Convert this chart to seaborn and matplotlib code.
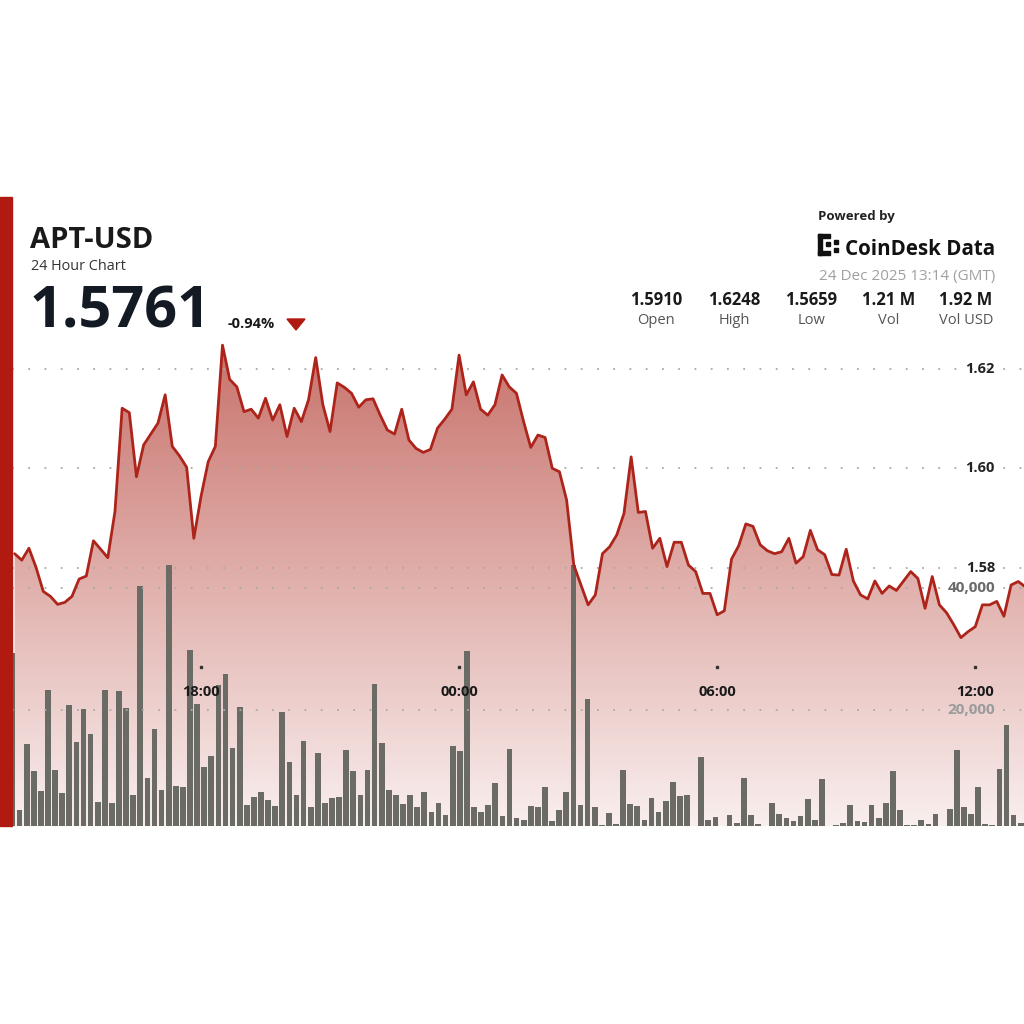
import matplotlib.pyplot as plt
import matplotlib.patches as patches
import matplotlib.transforms as mtransforms
from matplotlib.colors import LinearSegmentedColormap
import seaborn as sns
import numpy as np

# APT-USD price, one point every 10 minutes (first point ~13:40)
price = [
    1.5828, 1.5815, 1.5839, 1.5800, 1.5752, 1.5742, 1.5726, 1.5730, 1.5742, 1.5777,
    1.5783, 1.5854, 1.5837, 1.5820, 1.5913, 1.6121, 1.6112, 1.5983, 1.6047, 1.6069,
    1.6091, 1.6148, 1.6044, 1.6025, 1.6002, 1.5859, 1.5943, 1.6013, 1.6044, 1.6248,
    1.6179, 1.6164, 1.6114, 1.6119, 1.6101, 1.6141, 1.6097, 1.6128, 1.6064, 1.6121,
    1.6094, 1.6138, 1.6223, 1.6128, 1.6074, 1.6172, 1.6163, 1.6151, 1.6123, 1.6138,
    1.6140, 1.6107, 1.6077, 1.6069, 1.6119, 1.6057, 1.6040, 1.6032, 1.6038, 1.6081,
    1.6099, 1.6119, 1.6228, 1.6148, 1.6174, 1.6119, 1.6107, 1.6128, 1.6188, 1.6164,
    1.6151, 1.6094, 1.6042, 1.6067, 1.6062, 1.6000, 1.5993, 1.5936, 1.5805, 1.5765,
    1.5725, 1.5745, 1.5828, 1.5842, 1.5866, 1.5909, 1.6023, 1.5911, 1.5913, 1.5839,
    1.5859, 1.5802, 1.5851, 1.5851, 1.5805, 1.5792, 1.5748, 1.5748, 1.5705, 1.5713,
    1.5817, 1.5844, 1.5888, 1.5883, 1.5846, 1.5834, 1.5828, 1.5832, 1.5859, 1.5809,
    1.5822, 1.5875, 1.5836, 1.5826, 1.5786, 1.5785, 1.5837, 1.5773, 1.5745, 1.5737,
    1.5773, 1.5748, 1.5763, 1.5754, 1.5773, 1.5792, 1.5778, 1.5718, 1.5782, 1.5725,
    1.5709, 1.5685, 1.5659, 1.5671, 1.5681, 1.5725, 1.5725, 1.5732, 1.5702, 1.5765,
    1.5772, 1.5761,
]

# traded volume per 10-minute bar
volume = [
    29400, 3600, 14400, 10000, 6700, 23300, 10100, 6400, 20800, 14700,
    20200, 16100, 4900, 23300, 4700, 23100, 20300, 6000, 40400, 8800,
    16900, 6900, 43800, 7500, 7300, 29900, 21000, 10600, 12400, 24100,
    25900, 13800, 20500, 4400, 5700, 6500, 5200, 4200, 19700, 11500,
    6000, 14900, 4100, 12900, 4700, 5500, 5700, 13400, 10000, 6100,
    10100, 24300, 14500, 6900, 6000, 4600, 6100, 4000, 6600, 3200,
    4700, 2700, 14000, 13300, 29700, 4000, 3200, 4400, 8000, 2600,
    13600, 2200, 2000, 4300, 4000, 7300, 1800, 3600, 6500, 43900,
    4400, 21800, 4000, 1100, 3000, 1300, 10100, 4500, 4300, 2000,
    5500, 3300, 5100, 8200, 5900, 6000, 1000, 12200, 2000, 2400,
    1000, 2700, 1500, 8800, 2700, 1200, 800, 4700, 2900, 2200,
    1800, 2600, 5300, 2000, 8700, 800, 1100, 1400, 4400, 1800,
    1600, 4400, 2200, 4700, 10000, 3500, 1100, 1100, 2000, 1200,
    2900, 800, 3800, 13500, 4000, 2900, 7300, 1200, 1100, 10300,
    17500, 2700, 1500,
]

tick_pos = [26, 62, 98, 134]
tick_labels = ['18:00', '00:00', '06:00', '12:00']
price_grid = [1.58, 1.60, 1.62]
price_grid_labels = ['1.58', '1.60', '1.62']
vol_grid = [20000, 40000]
vol_grid_labels = ['20,000', '40,000']
stat_values = ['1.5910', '1.6248', '1.5659', '1.21 M', '1.92 M']
stat_names = ['Open', 'High', 'Low', 'Vol', 'Vol USD']

sns.set_theme(style='white')
plt.rcParams['font.family'] = ['Open Sans', 'DejaVu Sans']

W = 1024.0


def fx(px):
    return px / W


def fy(py):
    return 1 - py / W


fig = plt.figure(figsize=(10.24, 10.24), dpi=100, facecolor='white')

# chart area: x 12..1024 px, y 338..826 px
rect = [fx(12), fy(826), fx(1024) - fx(12), fy(338) - fy(826)]
ax_bg = fig.add_axes(rect)
ax_vol = fig.add_axes(rect)
ax = fig.add_axes(rect)

line_x = np.arange(len(price))
bar_x = np.arange(len(volume))
line_xlim = (-0.363, 140.80)
bar_xlim = (-0.07, 142.46)
price_lim = (1.52796, 1.62624)
vol_lim = (936, 81115)

# gradient area under the price line
ax_bg.set_xlim(*line_xlim)
ax_bg.set_ylim(*price_lim)
area = ax_bg.fill_between(line_x, price, price_lim[0], color='none', lw=0)
cmap = LinearSegmentedColormap.from_list('fade', ['#f9efee', '#c8716a'])
grad = np.linspace(1, 0, 256).reshape(-1, 1)
img = ax_bg.imshow(grad, extent=[*line_xlim, *price_lim], aspect='auto',
                   cmap=cmap, origin='upper', zorder=0)
img.set_clip_path(area.get_paths()[0], transform=ax_bg.transData)

dots = dict(color='#a9a9a9', lw=1.3, linestyle=(0, (1, 8)), zorder=1)
for g in price_grid:
    ax_bg.axhline(g, **dots)

# volume bars
sns.barplot(x=bar_x, y=volume, native_scale=True, color='#6b6b66', saturation=1,
            errorbar=None, width=0.8, linewidth=0, ax=ax_vol)
ax_vol.set_xlim(*bar_xlim)
ax_vol.set_ylim(*vol_lim)
for g in vol_grid:
    ax_vol.axhline(g, **dots)

# price line
sns.lineplot(x=line_x, y=price, sort=False, color='#ad241b', linewidth=2.0, ax=ax)
ax.set_xlim(*line_xlim)
ax.set_ylim(*price_lim)

for a in (ax_bg, ax_vol, ax):
    a.set_axis_off()
    a.patch.set_alpha(0)

# axis labels drawn inside the chart
lab_x = (995 - 12) / (1024 - 12)
for g, t in zip(price_grid, price_grid_labels):
    ax.text(lab_x, g, t, transform=mtransforms.blended_transform_factory(ax.transAxes, ax.transData),
            ha='right', va='center', fontsize=10.5, fontweight='bold', color='#222222')
vol_colors = ['#9b9b9b', '#6a6a6a']
for g, t, c in zip(vol_grid, vol_grid_labels, vol_colors):
    ax_vol.text(lab_x, g, t, transform=mtransforms.blended_transform_factory(ax_vol.transAxes, ax_vol.transData),
                ha='right', va='center', fontsize=11, fontweight='bold', color=c)

xt = mtransforms.blended_transform_factory(ax.transData, ax.transAxes)
for p, t in zip(tick_pos, tick_labels):
    ax.text(p, (826 - 692) / 488, t, transform=xt, ha='center', va='center',
            fontsize=10.5, fontweight='bold', color='#1a1a1a')
    ax.plot([p], [(826 - 667) / 488], transform=xt, marker='s', ms=1.6,
            color='#333333', clip_on=False)

# red accent bar on the left
fig.patches.append(patches.Rectangle((0, fy(826)), fx(12), fy(197) - fy(826),
                                     transform=fig.transFigure, color='#b01a10', zorder=5))

# header
fig.text(fx(30), fy(248), 'APT-USD', fontsize=21, fontweight='bold', color='#1a1a1a', va='baseline')
fig.text(fx(31), fy(270), '24 Hour Chart', fontsize=10.4, color='#333333', va='baseline')
fig.text(fx(30), fy(327), '1.5761', fontsize=41.5, fontweight='bold', color='#141a24', va='baseline')
fig.text(fx(228), fy(328), '-0.94%', fontsize=10.5, fontweight='bold', color='#1a1a1a', va='baseline')
fig.patches.append(patches.Polygon([(fx(287), fy(319)), (fx(305), fy(319)), (fx(296), fy(330))],
                                   closed=True, transform=fig.transFigure, color='#b01a10'))

fig.text(fx(818), fy(220), 'Powered by', fontsize=9.5, fontweight='bold', color='#222222', va='baseline')
fig.text(fx(845), fy(255), 'CoinDesk Data', fontsize=14.8, fontweight='bold', color='#111111', va='baseline')
# small dotted-bracket logo
for (x0, y0, w, h) in [(818, 234, 4, 21), (818, 234, 12, 4), (818, 251, 12, 4),
                       (826, 242, 4, 4), (834, 240, 4, 4), (834, 248, 4, 4)]:
    fig.patches.append(patches.Rectangle((fx(x0), fy(y0 + h)), fx(w), h / W,
                                         transform=fig.transFigure, color='#111111'))
fig.text(fx(995), fy(280), '24 Dec 2025 13:14 (GMT)', fontsize=11, color='#a0a0a0',
         ha='right', va='baseline')

stat_x = [656, 734, 811.5, 889, 966]
for sx, v, n in zip(stat_x, stat_values, stat_names):
    fig.text(fx(sx), fy(305), v, fontsize=12, fontweight='bold', color='#1a1a1a',
             ha='center', va='baseline')
    fig.text(fx(sx), fy(324), n, fontsize=10.5, color='#555555', ha='center', va='baseline')

fig.savefig('out.png', dpi=100, facecolor='white')
